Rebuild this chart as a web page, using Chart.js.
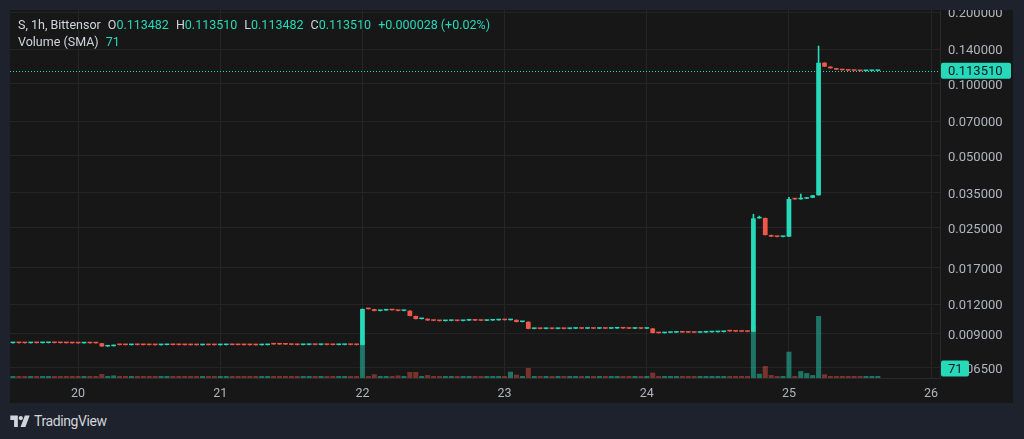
<!DOCTYPE html>
<html>
<head>
<meta charset="utf-8">
<script src="https://cdn.jsdelivr.net/npm/chart.js@4.4.1/dist/chart.umd.min.js"></script>
<style>
  html, body { margin: 0; padding: 0; width: 1024px; height: 439px; overflow: hidden; background: #1e222d; font-family: Roboto, "Noto Sans", sans-serif; }
  #panel { position: absolute; left: 10px; top: 10px; width: 1003px; height: 393px; background: #171717; }
  #wrap { position: absolute; left: 10px; top: 0; width: 1003px; height: 403px; }
  #topband { position: absolute; left: 0; top: 0; width: 1024px; height: 10px; background: #1e222d; }
  #legend { position: absolute; left: 18px; top: 16px; font-size: 12.5px; line-height: 17px; color: #d1d4dc; white-space: nowrap; }
  #legend .v { color: #26d9b8; }
  #legend .g { margin-left: 7px; }
  #brand { position: absolute; left: 10px; top: 413px; display: flex; align-items: center; color: #d1d4dc; font-size: 14px; letter-spacing: -0.4px; }
  #brand svg { margin-right: 4px; }
</style>
</head>
<body>
<div id="panel"></div>
<div id="wrap"><canvas id="chart" width="1003" height="403"></canvas></div>
<div id="topband"></div>
<div id="legend">
  <div><span>S, 1h, Bittensor</span><span class="g">O<span class="v" id="lo"></span></span><span class="g">H<span class="v" id="lh"></span></span><span class="g">L<span class="v" id="ll"></span></span><span class="g">C<span class="v" id="lc"></span></span><span class="g v" id="lchg"></span></div>
  <div><span>Volume (SMA)</span><span class="g v" id="lvol"></span></div>
</div>
<div id="brand">
  <svg width="20" height="14" viewBox="0 0 36 26"><path d="M14 24H7V11H0V3h14v21zM28 24h-9l8-21h9L28 24z" fill="#d1d4dc"/><circle cx="19.5" cy="7.5" r="4" fill="#d1d4dc"/></svg>
  <span>TradingView</span>
</div>
<script>
// Hourly candles from 19th 13:00 to 25th 15:00
const startDay = 19, startHour = 13, slotCount = 157;
const dayTicks = ['20', '21', '22', '23', '24', '25', '26'];
const priceTicks = [0.0065, 0.009, 0.012, 0.017, 0.025, 0.035, 0.05, 0.07, 0.1, 0.14, 0.2];

const firstOpen = 0.008238;
const closes = [
  0.008248, 0.008243, 0.008238, 0.008248, 0.008243, 0.008248, 0.008253, 0.008248, 0.008243, 0.008238,
  0.008232, 0.008227, 0.008238, 0.008232, 0.008227, 0.007980, 0.008001, 0.008093,
  0.008090, 0.008087, 0.008095, 0.008092, 0.008089, 0.008086, 0.008083, 0.008089, 0.008095, 0.008092,
  0.008089, 0.008086, 0.008083, 0.008080, 0.008088, 0.008085, 0.008082, 0.008088, 0.008094, 0.008091,
  0.008088, 0.008085, 0.008082, 0.008079, 0.008088,
  0.008145, 0.008140, 0.008135, 0.008130, 0.008104, 0.008093, 0.008099, 0.008104, 0.008099, 0.008104,
  0.008099, 0.008093, 0.008099, 0.008104, 0.008099, 0.008093,
  0.01145,
  0.01143, 0.01123, 0.01129, 0.01133, 0.01131, 0.01124, 0.01126, 0.01070, 0.01039, 0.01042,
  0.01025, 0.01022, 0.01019, 0.01021, 0.01023, 0.01020, 0.01024, 0.01027, 0.01024, 0.01022,
  0.01025, 0.01027, 0.01030, 0.01028, 0.01031, 0.01010, 0.01012, 0.00945, 0.00948,
  0.00945, 0.00947, 0.00945, 0.00947, 0.00945, 0.00947, 0.00949, 0.00947, 0.00949, 0.00947,
  0.00949, 0.00947, 0.00949, 0.00951, 0.00949, 0.00947, 0.00949, 0.00947, 0.00949,
  0.00908,
  0.00907, 0.00910, 0.00912, 0.00914, 0.00913, 0.00912, 0.00911, 0.00913, 0.00915, 0.00916,
  0.00917, 0.00925, 0.00923, 0.00921, 0.00920, 0.00919,
  0.02741, 0.02751, 0.02333, 0.02298, 0.02293, 0.02298, 0.03303, 0.03293, 0.03313, 0.03343, 0.03423,
  0.1228, 0.1182, 0.1164, 0.1149, 0.1142, 0.1138, 0.1136, 0.1133, 0.1134, 0.113482, 0.113510
];
// candles with a visible upper wick
const wickIdx = [125, 126, 131, 133, 136];
const wickHigh = [0.02851, 0.02801, 0.03353, 0.03464, 0.1442];

const volumes = [
  15, 15, 15, 15, 15, 15, 15, 15, 15, 15, 15, 15, 15, 15, 15, 30, 15, 19, 15, 15,
  15, 15, 15, 15, 15, 15, 15, 15, 15, 15, 15, 15, 15, 15, 15, 15, 15, 15, 15, 15,
  15, 15, 15, 15, 15, 15, 15, 15, 15, 15, 15, 15, 15, 15, 15, 15, 15, 15, 15, 285,
  15, 28, 15, 15, 15, 19, 15, 45, 45, 15, 22, 15, 15, 15, 15, 15, 15, 15, 15, 15,
  15, 15, 15, 15, 47, 25, 15, 75, 15, 15, 15, 15, 15, 15, 15, 15, 15, 15, 15, 15,
  15, 15, 15, 15, 15, 15, 15, 15, 40, 15, 15, 15, 15, 15, 15, 15, 15, 15, 15, 15,
  15, 15, 15, 15, 15, 390, 32, 90, 22, 15, 15, 197, 15, 52, 37, 22, 465, 28, 15, 15,
  15, 15, 15, 15, 15, 15, 15
];
const volumeSma = 71;

const upColor = '#26d9b8';
const downColor = '#f0564a';
const upVol = 'rgba(38, 217, 184, 0.48)';
const downVol = 'rgba(240, 86, 74, 0.45)';
const clear = 'rgba(0,0,0,0)';

// build hour slots
const hourLabels = [], hourOfSlot = [], dayOfSlot = [];
for (let i = 0; i < slotCount; i++) {
  const t = startHour + i;
  const d = startDay + Math.floor(t / 24);
  const h = t % 24;
  hourLabels.push(d + ' ' + String(h).padStart(2, '0') + ':00');
  hourOfSlot.push(h);
  dayOfSlot.push(d);
}

const opens = closes.map((c, i) => i === 0 ? firstOpen : closes[i - 1]);
const highs = closes.map((c, i) => {
  const k = wickIdx.indexOf(i);
  return k >= 0 ? wickHigh[k] : Math.max(c, opens[i]);
});
const lows = closes.map((c, i) => Math.min(c, opens[i]));
const isUp = closes.map((c, i) => c >= opens[i]);

const bodyData = closes.map((c, i) => [Math.min(c, opens[i]), Math.max(c, opens[i])]);
const wickData = closes.map((c, i) => [lows[i], highs[i]]);

const lastClose = closes[closes.length - 1];
const lastOpen = opens[opens.length - 1];
document.getElementById('lo').textContent = lastOpen.toFixed(6);
document.getElementById('lh').textContent = highs[highs.length - 1].toFixed(6);
document.getElementById('ll').textContent = lows[lows.length - 1].toFixed(6);
document.getElementById('lc').textContent = lastClose.toFixed(6);
document.getElementById('lchg').textContent = '+' + (lastClose - lastOpen).toFixed(6) + ' (+' + ((lastClose - lastOpen) / lastOpen * 100).toFixed(2) + '%)';
document.getElementById('lvol').textContent = volumeSma;

// price axis: 0.1 sits at y=84, ~103.8px per ln unit (as in the screenshot)
const fitScales = {
  id: 'fitScales',
  afterLayout(chart) {
    const { chartArea, scales } = chart;
    scales.y.min = 0.1 * Math.exp((84 - chartArea.bottom) / 103.8);
    scales.y.max = 0.1 * Math.exp((84 - chartArea.top) / 103.8);
    scales.y.configure();
    scales.vol.max = (chartArea.bottom - chartArea.top) * 7.5;
    scales.vol.configure();
  }
};

const overlay = {
  id: 'overlay',
  afterDatasetsDraw(chart) {
    const { ctx, chartArea, scales } = chart;
    const y = Math.round(scales.y.getPixelForValue(lastClose)) + 0.5;
    ctx.save();
    ctx.strokeStyle = upColor;
    ctx.lineWidth = 1;
    ctx.setLineDash([1, 2]);
    ctx.beginPath();
    ctx.moveTo(chartArea.left, y);
    ctx.lineTo(chartArea.right, y);
    ctx.stroke();
    ctx.restore();
  },
  afterDraw(chart) {
    const { ctx, chartArea, scales } = chart;
    ctx.save();
    ctx.font = '13px Roboto';
    ctx.textBaseline = 'middle';
    // last price tag
    const y = scales.y.getPixelForValue(lastClose);
    ctx.fillStyle = upColor;
    ctx.beginPath();
    ctx.roundRect(chartArea.right + 1, y - 8, 70, 16, 2);
    ctx.fill();
    ctx.fillStyle = '#131722';
    ctx.fillText(lastClose.toFixed(6), chartArea.right + 8, y + 1);
    // volume sma tag
    const vy = scales.vol.getPixelForValue(volumeSma);
    ctx.fillStyle = upColor;
    ctx.beginPath();
    ctx.roundRect(chartArea.right + 1, vy - 8, 28, 16, 2);
    ctx.fill();
    ctx.fillStyle = '#131722';
    ctx.fillText(String(volumeSma), chartArea.right + 8, vy + 1);
    ctx.restore();
  }
};

new Chart(document.getElementById('chart'), {
  type: 'bar',
  data: {
    labels: hourLabels,
    datasets: [
      {
        label: 'Body',
        data: bodyData,
        yAxisID: 'y',
        grouped: false,
        order: 1,
        backgroundColor: isUp.map(u => u ? upColor : downColor),
        barPercentage: 0.8,
        categoryPercentage: 1,
        minBarLength: 1.5
      },
      {
        label: 'Wick',
        data: wickData,
        yAxisID: 'y',
        grouped: false,
        order: 2,
        backgroundColor: isUp.map(u => u ? upColor : downColor),
        barThickness: 1
      },
      {
        label: 'Volume',
        data: volumes,
        yAxisID: 'vol',
        grouped: false,
        order: 3,
        backgroundColor: isUp.map(u => u ? upVol : downVol),
        barPercentage: 0.85,
        categoryPercentage: 1
      }
    ]
  },
  options: {
    responsive: false,
    animation: false,
    layout: { padding: { top: 10, left: 0, right: 0, bottom: 0 } },
    plugins: { legend: { display: false }, tooltip: { enabled: false } },
    scales: {
      x: {
        type: 'category',
        offset: true,
        grid: {
          offset: false,
          drawTicks: true,
          tickLength: 8,
          tickColor: clear,
          color: c => (c.index !== undefined && hourOfSlot[c.index] === 0) ? '#262626' : clear
        },
        border: { color: '#2a2a2a' },
        ticks: {
          autoSkip: false,
          maxRotation: 0,
          padding: 0,
          color: '#b2b5be',
          font: { family: 'Roboto', size: 12.5 },
          callback: (v, i) => hourOfSlot[i] === 0 ? dayTicks[dayOfSlot[i] - 20] : ''
        },
        afterFit(s) { s.height = 25; }
      },
      y: {
        type: 'logarithmic',
        position: 'right',
        min: 0.005887,
        max: 0.2040,
        afterBuildTicks(s) { s.ticks = priceTicks.map(v => ({ value: v })); },
        grid: { color: '#242424', drawTicks: true, tickLength: 8, tickColor: clear },
        border: { color: '#2a2a2a' },
        ticks: {
          padding: 0,
          labelOffset: 2,
          color: '#b2b5be',
          font: { family: 'Roboto', size: 13 },
          callback: v => Number(v).toFixed(6)
        },
        afterFit(s) { s.width = 73; }
      },
      vol: {
        display: false,
        min: 0,
        max: 2760
      }
    }
  },
  plugins: [fitScales, overlay]
});
</script>
</body>
</html>
